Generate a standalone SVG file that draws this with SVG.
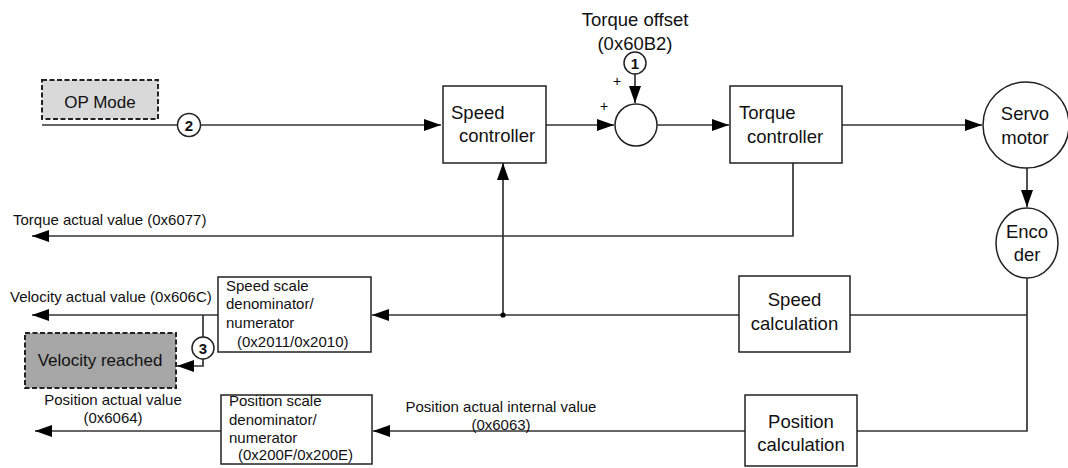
<svg xmlns="http://www.w3.org/2000/svg" width="1068" height="468" viewBox="0 0 1068 468">
<defs>
<style>
text{font-family:"Liberation Sans",Arial,sans-serif;fill:#111}
.big{font-size:18.5px}
.sm{font-size:15px}
.mid{font-size:17px}
.plus{font-size:14px;fill:#000}
.num{font-size:15px;font-weight:bold}
.box{fill:#fff;stroke:#222;stroke-width:1.5}
.dash{stroke:#222;stroke-width:2;stroke-dasharray:5 2.5}
.ln{fill:none;stroke:#333;stroke-width:1.7}
.circ{fill:#fff;stroke:#222;stroke-width:1.5}
</style>
<marker id="ar" markerWidth="17" markerHeight="12" refX="17" refY="6" orient="auto" markerUnits="userSpaceOnUse">
<path d="M0,0 L17,6 L0,12 Z" fill="#000"/>
</marker>
</defs>
<rect width="1068" height="468" fill="#fff"/>

<g id="connectors">
<line class="ln" x1="42" y1="125" x2="441" y2="125" marker-end="url(#ar)"/>
<line class="ln" x1="546" y1="125" x2="614" y2="125" marker-end="url(#ar)"/>
<line class="ln" x1="635" y1="74" x2="635" y2="103" marker-end="url(#ar)"/>
<line class="ln" x1="657" y1="125" x2="729" y2="125" marker-end="url(#ar)"/>
<line class="ln" x1="842" y1="125" x2="982" y2="125" marker-end="url(#ar)"/>
<line class="ln" x1="1027" y1="168" x2="1027" y2="207" marker-end="url(#ar)"/>
<polyline class="ln" points="1027,278 1027,431 857,431"/>
<line class="ln" x1="1027" y1="315" x2="850" y2="315"/>
<line class="ln" x1="739" y1="315" x2="372" y2="315" marker-end="url(#ar)"/>
<line class="ln" x1="503" y1="315" x2="503" y2="163" marker-end="url(#ar)"/>
<circle cx="503" cy="315" r="2.6" fill="#000"/>
<line class="ln" x1="745" y1="431" x2="373" y2="431" marker-end="url(#ar)"/>
<polyline class="ln" points="793,163 793,236 32,236" marker-end="url(#ar)"/>
<line class="ln" x1="218" y1="315" x2="32" y2="315" marker-end="url(#ar)"/>
<line class="ln" x1="221" y1="431" x2="35" y2="431" marker-end="url(#ar)"/>
<line class="ln" x1="203" y1="315" x2="203" y2="337"/>
<polyline class="ln" points="203,359 203,366 177,366" marker-end="url(#ar)"/>
</g>

<g id="op-mode">
<rect x="42" y="80" width="116" height="39" fill="#d9d9d9" class="dash"/>
<text class="mid" x="100" y="108" text-anchor="middle">OP Mode</text>
</g>

<g id="marker-2">
<circle class="circ" cx="189" cy="125" r="11.5"/>
<text class="num" x="189" y="130.5" text-anchor="middle">2</text>
</g>

<g id="speed-controller">
<rect class="box" x="443" y="86" width="103" height="77"/>
<text class="big" x="451" y="119">Speed</text>
<text class="big" x="459" y="142">controller</text>
</g>

<g id="torque-offset">
<text class="big" x="635" y="26" text-anchor="middle">Torque offset</text>
<text class="big" x="635" y="50" text-anchor="middle">(0x60B2)</text>
</g>

<g id="marker-1">
<circle class="circ" cx="635" cy="63" r="11"/>
<text class="num" x="635" y="68.5" text-anchor="middle">1</text>
</g>

<g id="sum">
<circle class="circ" cx="636" cy="125" r="21"/>
<text class="plus" x="617" y="86" text-anchor="middle">+</text>
<text class="plus" x="604" y="111" text-anchor="middle">+</text>
</g>

<g id="torque-controller">
<rect class="box" x="730" y="86" width="112" height="77"/>
<text class="big" x="739" y="119">Torque</text>
<text class="big" x="747" y="143">controller</text>
</g>

<g id="servo-motor">
<circle class="circ" cx="1026" cy="125" r="43"/>
<text class="big" x="1025" y="120" text-anchor="middle">Servo</text>
<text class="big" x="1025" y="144" text-anchor="middle">motor</text>
</g>

<g id="encoder">
<ellipse class="circ" cx="1027" cy="243" rx="31" ry="35"/>
<text class="big" x="1027" y="238" text-anchor="middle">Enco</text>
<text class="big" x="1027" y="261" text-anchor="middle">der</text>
</g>

<g id="torque-actual">
<text class="sm" x="13" y="225">Torque actual value (0x6077)</text>
</g>

<g id="velocity-actual">
<text class="sm" x="10" y="302">Velocity actual value (0x606C)</text>
</g>

<g id="speed-scale">
<rect class="box" x="218" y="277" width="153" height="75"/>
<text class="sm" x="226" y="291">Speed scale</text>
<text class="sm" x="226" y="309">denominator/</text>
<text class="sm" x="226" y="328">numerator</text>
<text class="sm" x="237" y="347">(0x2011/0x2010)</text>
</g>

<g id="marker-3">
<circle class="circ" cx="203" cy="348" r="11"/>
<text class="num" x="203" y="353.5" text-anchor="middle">3</text>
</g>

<g id="velocity-reached">
<rect x="25" y="333" width="151" height="55" fill="#a6a6a6" class="dash"/>
<text class="mid" x="100" y="366" text-anchor="middle">Velocity reached</text>
</g>

<g id="speed-calculation">
<rect class="box" x="739" y="276" width="111" height="76"/>
<text class="big" x="794.5" y="306" text-anchor="middle">Speed</text>
<text class="big" x="794.5" y="330" text-anchor="middle">calculation</text>
</g>

<g id="position-actual">
<text class="sm" x="113" y="405" text-anchor="middle">Position actual value</text>
<text class="sm" x="113" y="423" text-anchor="middle">(0x6064)</text>
</g>

<g id="position-scale">
<rect class="box" x="221" y="395" width="151" height="69"/>
<text class="sm" x="229" y="406">Position scale</text>
<text class="sm" x="229" y="425">denominator/</text>
<text class="sm" x="229" y="443">numerator</text>
<text class="sm" x="238" y="460">(0x200F/0x200E)</text>
</g>

<g id="position-internal">
<text class="sm" x="501" y="412" text-anchor="middle">Position actual internal value</text>
<text class="sm" x="501" y="430" text-anchor="middle">(0x6063)</text>
</g>

<g id="position-calculation">
<rect class="box" x="745" y="395" width="112" height="71"/>
<text class="big" x="801" y="428" text-anchor="middle">Position</text>
<text class="big" x="801" y="451" text-anchor="middle">calculation</text>
</g>
</svg>
